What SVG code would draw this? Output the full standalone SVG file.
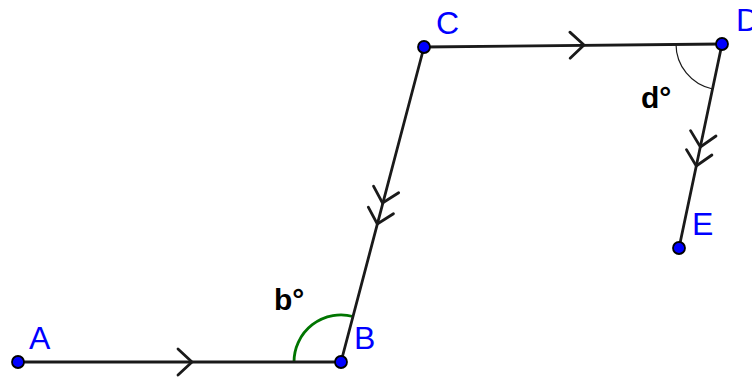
<svg xmlns="http://www.w3.org/2000/svg" width="752" height="380" viewBox="0 0 752 380">
<style>
.seg{stroke:#1a1a1a;stroke-width:2.8;fill:none;stroke-linecap:round}
.chev{stroke:#1a1a1a;stroke-width:2.8;fill:none;stroke-linecap:round;stroke-linejoin:miter}
.pt{fill:#0000ff;stroke:#000;stroke-width:1.8}
.lbl{font-family:"Liberation Sans",Arial,sans-serif;font-size:32px;fill:#0000ff}
.ang{font-family:"Liberation Sans",Arial,sans-serif;font-size:30px;font-weight:bold;fill:#000}
</style>
<defs>
<path id="chev" class="chev" d="M-14,-13 L0,0 L-14,13"/>
</defs>
<rect width="752" height="380" fill="#fff"/>
<g id="angles">
<path d="M294,362 A47,47 0 0 1 353,316.5" fill="none" stroke="#007500" stroke-width="2.8"/>
<path d="M676,44 A46,46 0 0 0 712.5,89" fill="none" stroke="#1a1a1a" stroke-width="1.2"/>
</g>
<g id="connectors">
<line class="seg" x1="18" y1="362" x2="341" y2="362"/>
<line class="seg" x1="341" y1="362" x2="424" y2="47"/>
<line class="seg" x1="424" y1="47" x2="722" y2="44"/>
<line class="seg" x1="722" y1="44" x2="679" y2="248"/>
<use href="#chev" transform="translate(192,362)"/>
<use href="#chev" transform="translate(584,45) rotate(-0.6)"/>
<use href="#chev" transform="translate(382.5,203) rotate(104.8)"/>
<use href="#chev" transform="translate(377.3,224) rotate(104.8)"/>
<use href="#chev" transform="translate(700.4,147) rotate(101.9)"/>
<use href="#chev" transform="translate(696.3,166) rotate(101.9)"/>
</g>
<g id="node-A"><circle class="pt" cx="18" cy="362" r="6"/><text class="lbl" x="29" y="349">A</text></g>
<g id="node-B"><circle class="pt" cx="341" cy="362" r="6"/><text class="lbl" x="354" y="349">B</text></g>
<g id="node-C"><circle class="pt" cx="424" cy="47" r="6"/><text class="lbl" x="436" y="34">C</text></g>
<g id="node-D"><circle class="pt" cx="722" cy="44" r="6"/><text class="lbl" x="736" y="31">D</text></g>
<g id="node-E"><circle class="pt" cx="679" cy="248" r="6"/><text class="lbl" x="692" y="235">E</text></g>
<g id="label-b"><text class="ang" x="274" y="310">b°</text></g>
<g id="label-d"><text class="ang" x="641" y="108">d°</text></g>
</svg>
